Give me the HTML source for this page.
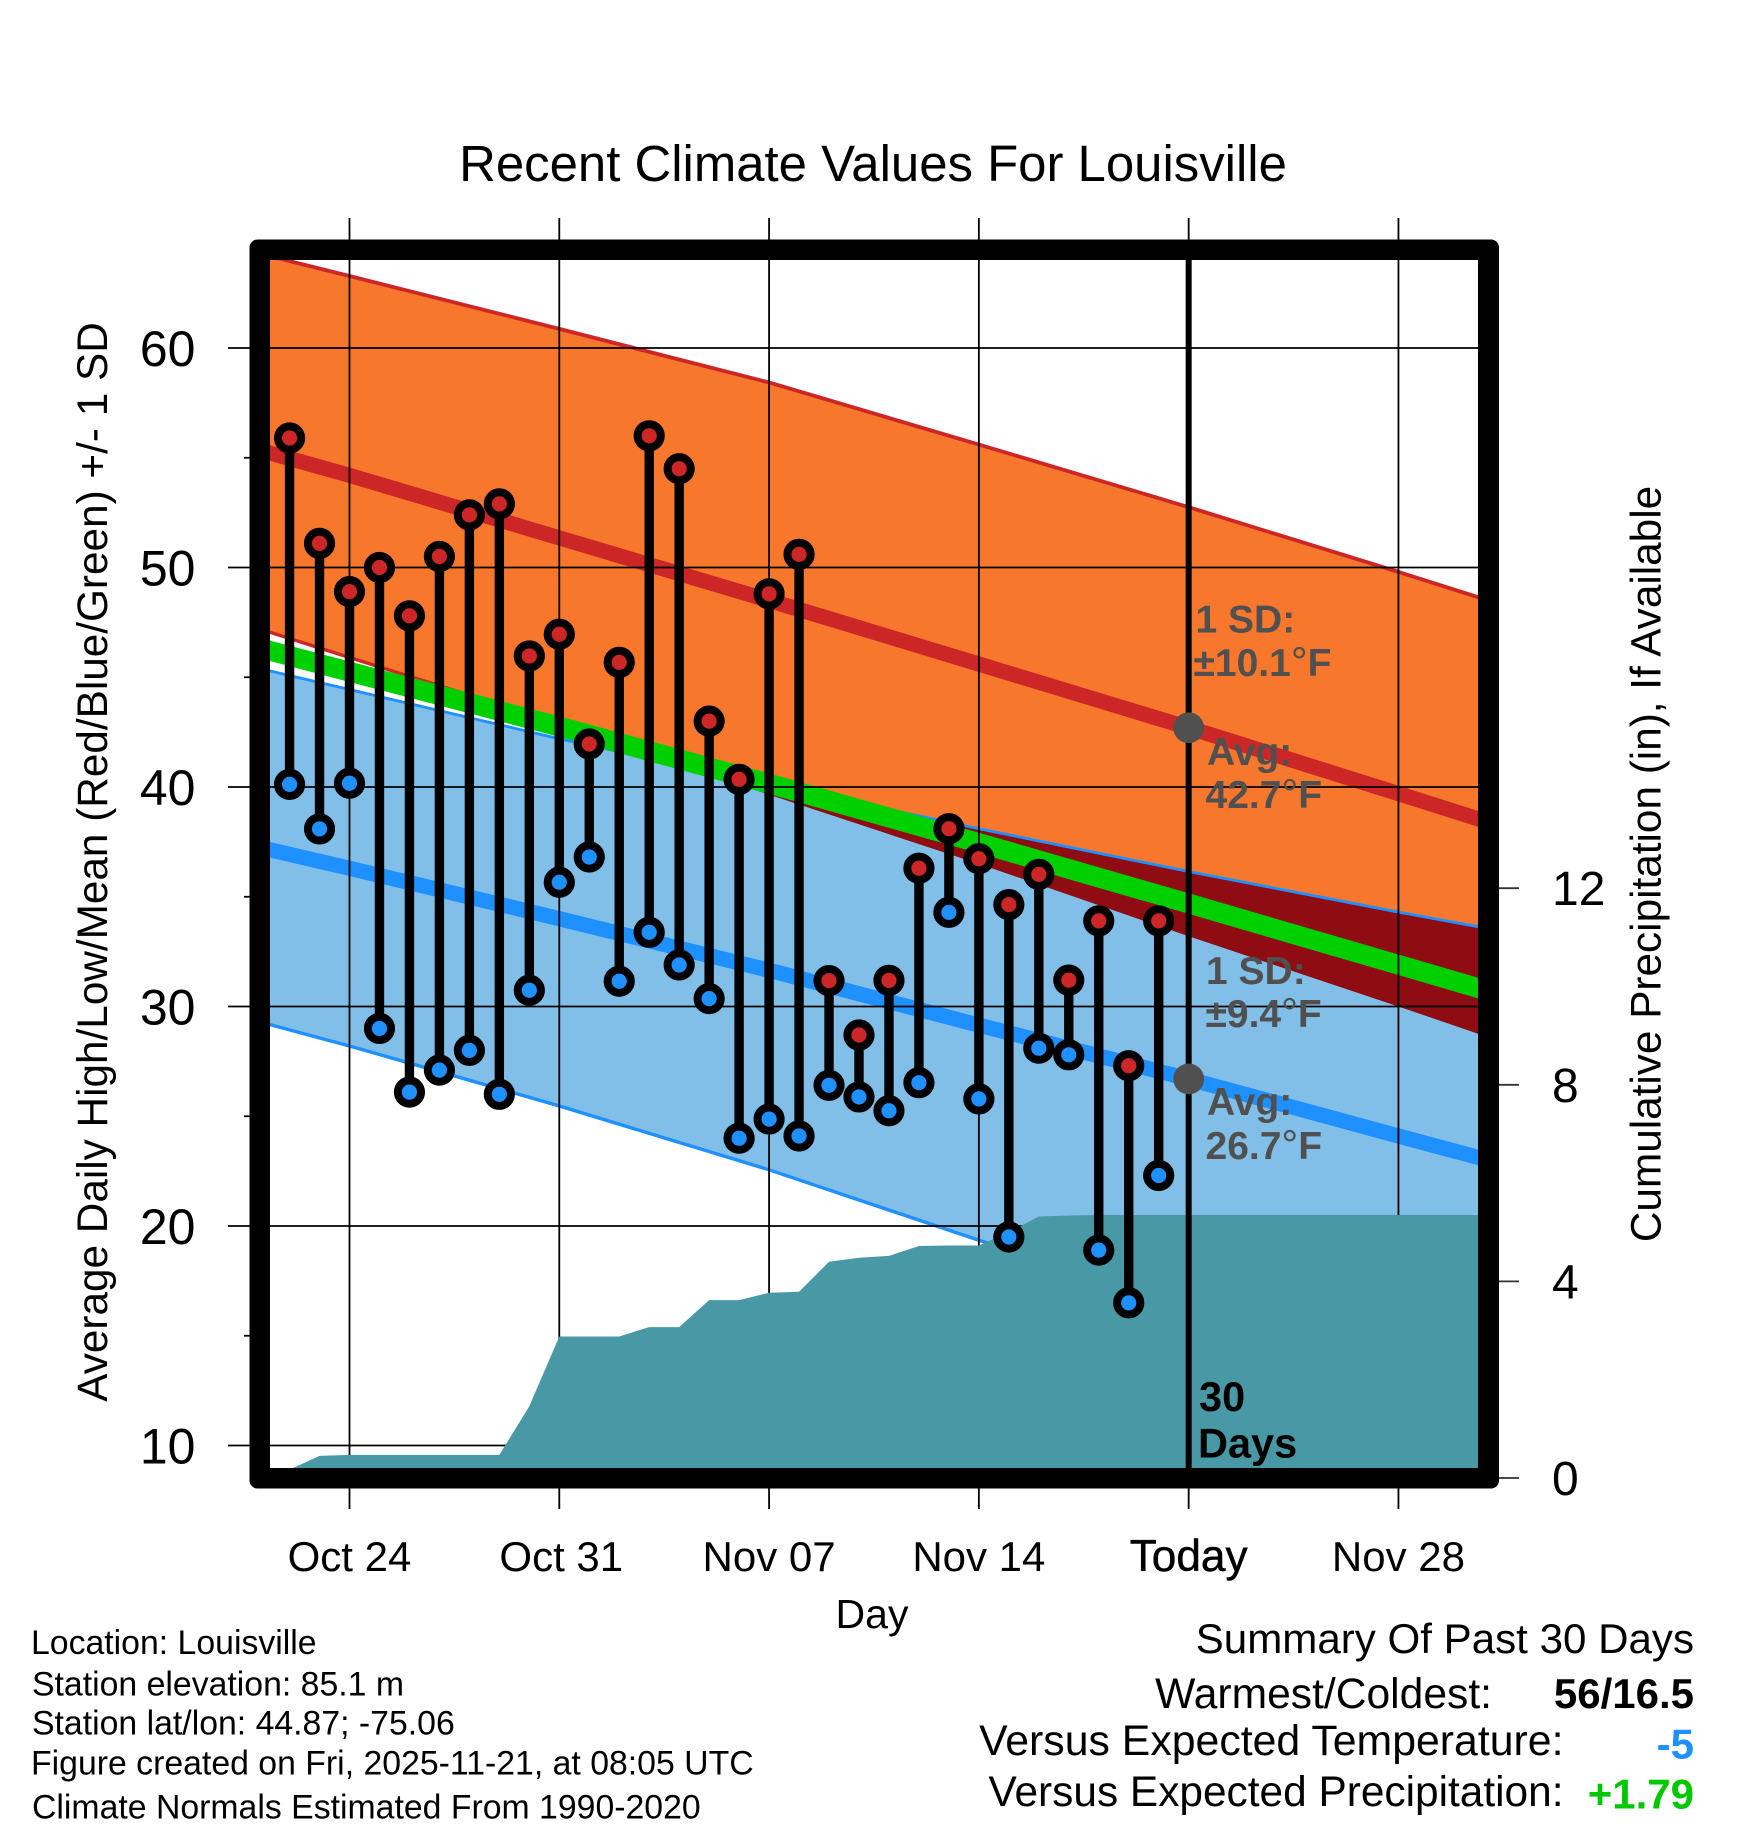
<!DOCTYPE html>
<html lang="en">
<head>
<meta charset="utf-8">
<title>Recent Climate Values For Louisville</title>
<style>
html,body{margin:0;padding:0;background:#fff;}
svg{display:block;font-family:"Liberation Sans",Arial,Helvetica,sans-serif;}
</style>
</head>
<body>
<svg id="chart" xmlns="http://www.w3.org/2000/svg" width="1748" height="1828" viewBox="0 0 1748 1828">
  <rect x="0" y="0" width="1748" height="1828" fill="#ffffff"/>
  <defs>
    <clipPath id="plot-clip"><rect x="270" y="260" width="1208" height="1208"/></clipPath>
    <clipPath id="orange-clip"><polygon id="orange-clip-shape" points="0,0"/></clipPath>
  </defs>
  <g id="bands" clip-path="url(#plot-clip)"></g>
  <g id="grid"></g>
  <g id="precip" clip-path="url(#plot-clip)"></g>
  <g id="today" clip-path="url(#plot-clip)"></g>
  <g id="marks" clip-path="url(#plot-clip)"></g>
  <path fill="#000" fill-rule="evenodd" d="M257.5,239.5 H1491 A8,8 0 0 1 1499,247.5 V1480.5 A8,8 0 0 1 1491,1488.5 H257.5 A8,8 0 0 1 249.5,1480.5 V247.5 A8,8 0 0 1 257.5,239.5 Z M270,260 V1468 H1478 V260 Z"/>
  <g id="tick-labels" fill="#000"></g>

  <text x="873" y="181" font-size="50.9" text-anchor="middle">Recent Climate Values For Louisville</text>
  <text x="872" y="1628" font-size="41" text-anchor="middle">Day</text>
  <text transform="translate(107 862) rotate(-90)" font-size="42.3" text-anchor="middle">Average Daily High/Low/Mean (Red/Blue/Green) +/- 1 SD</text>
  <text transform="translate(1660.5 864) rotate(-90)" font-size="42.3" text-anchor="middle">Cumulative Precipitation (in), If Available</text>

  <g font-size="39" font-weight="700" fill="#505050">
    <text x="1195.5" y="632.5">1 SD:</text>
    <text x="1193.5" y="676">±10.1<tspan font-size="42" font-weight="400">°</tspan>F</text>
    <text x="1207" y="765">Avg:</text>
    <text x="1205.5" y="808">42.7<tspan font-size="42" font-weight="400">°</tspan>F</text>
    <text x="1206" y="984">1 SD:</text>
    <text x="1205.5" y="1027">±9.4<tspan font-size="42" font-weight="400">°</tspan>F</text>
    <text x="1207" y="1115">Avg:</text>
    <text x="1205.5" y="1159">26.7<tspan font-size="42" font-weight="400">°</tspan>F</text>
  </g>
  <g font-size="41.5" font-weight="700" fill="#000">
    <text x="1199" y="1411">30</text>
    <text x="1198" y="1457.5">Days</text>
  </g>

  <g font-size="33.8" fill="#000">
    <text x="31" y="1654">Location: Louisville</text>
    <text x="32" y="1695.5">Station elevation: 85.1 m</text>
    <text x="32" y="1734.5">Station lat/lon: 44.87; -75.06</text>
    <text x="31" y="1774.5">Figure created on Fri, 2025-11-21, at 08:05 UTC</text>
    <text x="32" y="1818.5">Climate Normals Estimated From 1990-2020</text>
  </g>

  <g font-size="42" fill="#000" text-anchor="end">
    <text x="1694" y="1653" font-size="42.1">Summary Of Past 30 Days</text>
    <text x="1492" y="1708" font-size="42.6">Warmest/Coldest:</text>
    <text x="1694" y="1708" font-weight="700">56/16.5</text>
    <text x="1563.5" y="1755" font-size="42.8">Versus Expected Temperature:</text>
    <text x="1694" y="1758.5" font-weight="700" fill="#1e90ff">-5</text>
    <text x="1563.5" y="1806" font-size="42.4">Versus Expected Precipitation:</text>
    <text x="1694" y="1808.5" font-weight="700" fill="#00c800">+1.79</text>
  </g>
</svg>
<script>
// Day numbers are offsets from Oct 24.
const tempTicks = [10, 20, 30, 40, 50, 60];
const tempMinorTicks = [15, 25, 35, 45, 55];
const precipTicks = [0, 4, 8, 12];
const dayTicks = [0, 7, 14, 21, 28, 35];
const dayTickLabels = ["Oct 24", "Oct 31", "Nov 07", "Nov 14", "Today", "Nov 28"];
const todayDay = 28;
const todayHighMean = 42.7;
const todayLowMean = 26.7;

const normalDays = [-3, 0, 7, 14, 21, 28, 35, 38];
const highUpper = [64.3, 63.28, 60.87, 58.43, 55.6, 52.75, 49.8, 48.5];
const highMean = [55.35, 54.2, 51.35, 48.5, 45.6, 42.7, 39.7, 38.4];
const highLower = [47.2, 45.9, 42.9, 39.65, 36.5, 33.2, 30.0, 28.6];
const lowUpper = [45.4, 44.44, 42.2, 40.13, 38.1, 36.15, 34.3, 33.55];
const lowMean = [37.25, 36.3, 34.0, 31.65, 29.15, 26.7, 24.1, 23.0];
const lowLower = [29.3, 28.2, 25.47, 22.56, 19.35, 16.4, 13.2, 12.0];
const midMean = [46.33, 45.25, 42.75, 40.15, 37.45, 34.69, 31.9, 30.7];

const firstObservedDay = -2;
const dailyHigh = [55.9, 51.1, 48.9, 50.0, 47.8, 50.5, 52.4, 52.9, 45.97, 46.96, 41.96, 45.68, 56.0, 54.5, 43.0, 40.35, 48.8, 50.6, 31.18, 28.7, 31.19, 36.3, 38.1, 36.73, 34.64, 36.02, 31.2, 33.9, 27.3, 33.9];
const dailyLow = [40.12, 38.09, 40.17, 29.0, 26.1, 27.1, 28.0, 26.0, 30.74, 35.66, 36.81, 31.15, 33.38, 31.89, 30.36, 24.0, 24.87, 24.1, 26.41, 25.88, 25.25, 26.53, 34.29, 25.79, 19.5, 28.1, 27.8, 18.9, 16.5, 22.3];

const precipFirstDay = -3;
const precipEndDay = 38;
const precipCumulative = [0, 0.17, 0.45, 0.47, 0.47, 0.47, 0.47, 0.47, 0.47, 1.46, 2.88, 2.88, 2.88, 3.07, 3.07, 3.62, 3.62, 3.77, 3.79, 4.40, 4.48, 4.52, 4.72, 4.73, 4.73, 5.0, 5.32, 5.34, 5.35, 5.35, 5.35, 5.35, 5.35];

const NS = 'http://www.w3.org/2000/svg';
function xScale(day) { return 349.5 + 29.97 * day; }
function yScale(temp) { return 348 + (60 - temp) * 21.95; }
function pScale(inches) { return 1478 - inches * 49.15; }
function make(tag, parent, attrs) {
  const el = document.createElementNS(NS, tag);
  for (const k in attrs) el.setAttribute(k, attrs[k]);
  parent.appendChild(el);
  return el;
}
function linePts(days, vals) {
  return days.map(function (d, i) { return xScale(d).toFixed(2) + ',' + yScale(vals[i]).toFixed(2); });
}
function bandPts(days, top, bottom) {
  return linePts(days, top).concat(linePts(days, bottom).reverse()).join(' ');
}

const bands = document.getElementById('bands');
const grid = document.getElementById('grid');
const precip = document.getElementById('precip');
const today = document.getElementById('today');
const marks = document.getElementById('marks');
const labels = document.getElementById('tick-labels');

document.getElementById('orange-clip-shape').setAttribute('points', bandPts(normalDays, highUpper, highLower));

const orangeBand = make('polygon', bands, { points: bandPts(normalDays, highUpper, highLower), fill: '#f7782c' });



const highUpperLine = make('polyline', bands, { points: linePts(normalDays, highUpper).join(' '), fill: 'none', stroke: '#cd2626', 'stroke-width': 3.8 });



const highLowerLine = make('polyline', bands, { points: linePts(normalDays, highLower).join(' '), fill: 'none', stroke: '#cd2626', 'stroke-width': 3.4 });



const blueBand = make('polygon', bands, { points: bandPts(normalDays, lowUpper, lowLower), fill: '#82bfe8' });



const overlapBand = make('polygon', bands, { points: bandPts(normalDays, lowUpper, lowLower), fill: '#8f0c12', 'clip-path': 'url(#orange-clip)' });



const lowUpperLine = make('polyline', bands, { points: linePts(normalDays, lowUpper).join(' '), fill: 'none', stroke: '#1e90ff', 'stroke-width': 2.8 });



const lowLowerLine = make('polyline', bands, { points: linePts(normalDays, lowLower).join(' '), fill: 'none', stroke: '#1e90ff', 'stroke-width': 3.4 });



const midLine = make('polyline', bands, { points: linePts(normalDays, midMean).join(' '), fill: 'none', stroke: '#00d000', 'stroke-width': 19.8 });



const highMeanLine = make('polyline', bands, { points: linePts(normalDays, highMean).join(' '), fill: 'none', stroke: '#cd2626', 'stroke-width': 15.2 });



const lowMeanLine = make('polyline', bands, { points: linePts(normalDays, lowMean).join(' '), fill: 'none', stroke: '#1e90ff', 'stroke-width': 15.2 });



tempTicks.forEach(function (t) {
  const g = make('line', grid, { x1: 228, x2: 1488, y1: yScale(t), y2: yScale(t), stroke: '#000', 'stroke-width': 1.8 });
  
  
  const lab = make('text', labels, { x: 195.5, y: yScale(t) + 18, 'font-size': 50, 'text-anchor': 'end' });
  
  
  lab.textContent = String(t);
});
tempMinorTicks.forEach(function (t) {
  const g = make('line', grid, { x1: 244, x2: 262, y1: yScale(t), y2: yScale(t), stroke: '#000', 'stroke-width': 1.8 });
  
  
});
dayTicks.forEach(function (d, i) {
  const g = make('line', grid, { x1: xScale(d), x2: xScale(d), y1: 218, y2: 1509, stroke: '#000', 'stroke-width': 1.8 });
  
  
  const lab = make('text', labels, { x: xScale(d) + (d === 7 ? 2 : 0), y: 1571, 'font-size': d === todayDay ? 44.2 : 42, 'text-anchor': 'middle' });
  if (d === todayDay) { lab.setAttribute('stroke', '#000'); lab.setAttribute('stroke-width', '0.5'); }
  
  
  lab.textContent = dayTickLabels[i];
});
precipTicks.forEach(function (p) {
  const g = make('line', grid, { x1: 1495, x2: 1519, y1: pScale(p), y2: pScale(p), stroke: '#333', 'stroke-width': 1.8 });
  
  
  const lab = make('text', labels, { x: 1552, y: pScale(p) + 17, 'font-size': 48 });
  
  
  lab.textContent = String(p);
});

const precipPts = precipCumulative.map(function (v, i) {
  return xScale(precipFirstDay + i).toFixed(2) + ',' + pScale(v).toFixed(2);
});
precipPts.push(xScale(precipEndDay).toFixed(2) + ',' + pScale(precipCumulative[precipCumulative.length - 1]).toFixed(2));
precipPts.push(xScale(precipEndDay).toFixed(2) + ',' + pScale(0).toFixed(2));
precipPts.push(xScale(precipFirstDay).toFixed(2) + ',' + pScale(0).toFixed(2));
const precipArea = make('polygon', precip, { points: precipPts.join(' '), fill: '#4899a5' });



const todayLine = make('line', today, { x1: xScale(todayDay), x2: xScale(todayDay), y1: 250, y2: 1478, stroke: '#000', 'stroke-width': 6 });


const todayHighDot = make('circle', today, { cx: xScale(todayDay), cy: yScale(todayHighMean), r: 15.4, fill: '#505050' });


const todayLowDot = make('circle', today, { cx: xScale(todayDay), cy: yScale(todayLowMean), r: 15.4, fill: '#505050' });



dailyHigh.forEach(function (hi, i) {
  const x = xScale(firstObservedDay + i);
  const stem = make('line', marks, { x1: x, x2: x, y1: yScale(hi), y2: yScale(dailyLow[i]), stroke: '#000', 'stroke-width': 9.4 });
  
  
});
dailyHigh.forEach(function (hi, i) {
  const x = xScale(firstObservedDay + i);
  const lowDot = make('circle', marks, { cx: x, cy: yScale(dailyLow[i]), r: 11.6, fill: '#1e90ff', stroke: '#000', 'stroke-width': 8 });
  
  
  const highDot = make('circle', marks, { cx: x, cy: yScale(hi), r: 11.6, fill: '#cd2626', stroke: '#000', 'stroke-width': 8 });
  
  
});
</script>
</body>
</html>
